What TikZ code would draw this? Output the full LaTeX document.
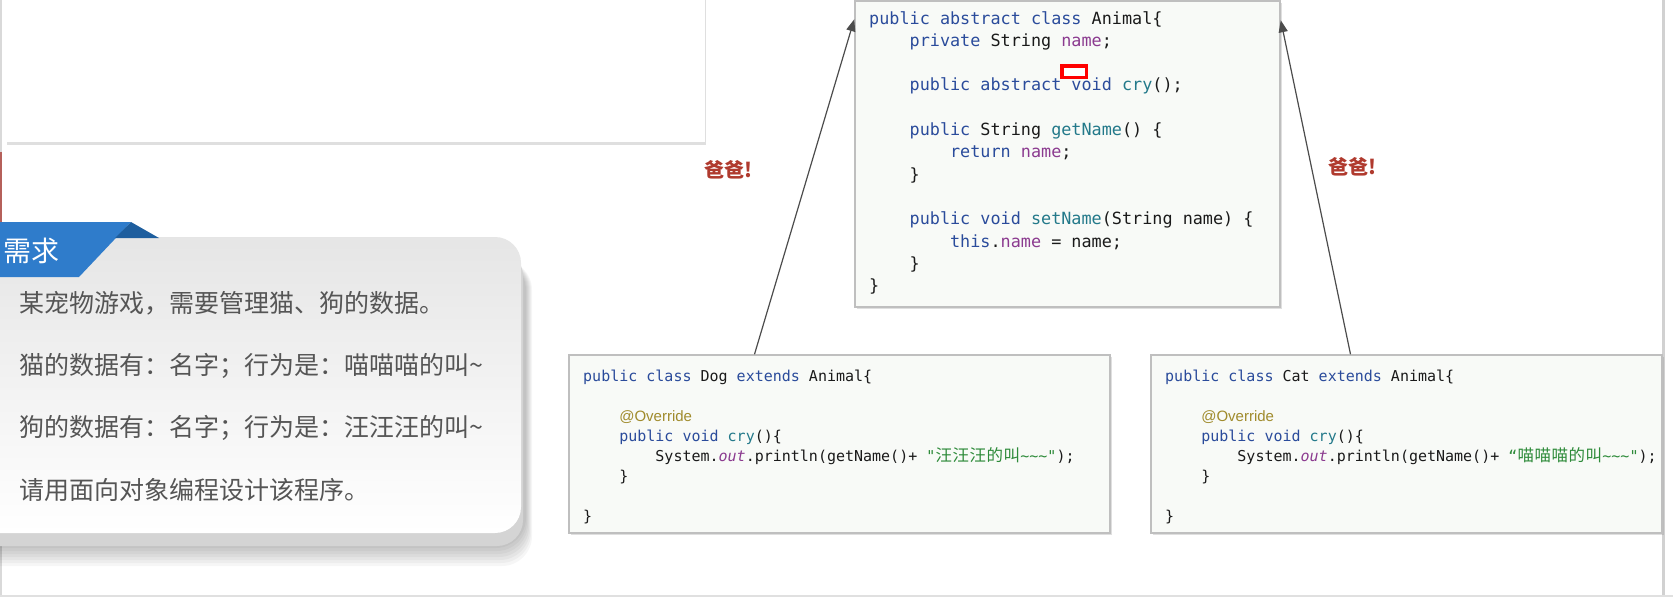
\documentclass[tikz,border=0pt]{standalone}
\usepackage{fontspec}
\setmonofont{DejaVu Sans Mono}
\newfontfamily\cjk{Noto Sans CJK SC}
\newfontfamily\arialfont{Liberation Sans}
\usetikzlibrary{arrows.meta,shadows}

\definecolor{kwblue}{HTML}{2A4B9B}
\definecolor{mthteal}{HTML}{23798A}
\definecolor{fldpurple}{HTML}{8B3A8F}
\definecolor{strgreen}{HTML}{2E8B3A}
\definecolor{annogold}{HTML}{A08B2C}
\definecolor{codeink}{HTML}{1A1A1A}
\definecolor{reqblue}{HTML}{2F7CCB}
\definecolor{reqfold}{HTML}{1E5E9E}
\definecolor{dadred}{HTML}{B03A2E}
\definecolor{reqgray}{HTML}{555555}
\definecolor{codebg}{HTML}{F8FAF7}
\definecolor{edgered}{HTML}{B5605A}

% code colouring
\newcommand{\kwd}[1]{\textcolor{kwblue}{#1}}
\newcommand{\mth}[1]{\textcolor{mthteal}{#1}}
\newcommand{\fld}[1]{\textcolor{fldpurple}{#1}}
\newcommand{\jstr}[1]{\textcolor{strgreen}{#1}}
\newcommand{\anno}[1]{\textcolor{annogold}{\arialfont #1}}
\newcommand{\cc}[1]{\makebox[17pt]{\cjk\fontsize{16.5}{20}\selectfont #1}}
\newcommand{\tld}{\textasciitilde}
\newcommand{\indt}{\phantom{0000}}
\newcommand{\bigcode}{\ttfamily\fontsize{16.8}{22.3}\selectfont}
\newcommand{\smallcode}{\ttfamily\fontsize{15}{20}\selectfont}

\begin{document}
\begin{tikzpicture}[x=1pt, y=-1pt,
  codebox/.style={draw=black!25, line width=1.5pt, fill=codebg, inner sep=0pt,
                  drop shadow={shadow xshift=2pt, shadow yshift=-2pt, opacity=0.25}},
  code/.style={inner sep=0pt, align=left, text=codeink, anchor=north west},
  reqtext/.style={inner sep=0pt, anchor=base west, text=reqgray,
                  font=\cjk\fontsize{25}{30}\selectfont},
  dad/.style={font=\cjk\bfseries\fontsize{20}{22}\selectfont, text=dadred, inner sep=0pt},
  inherit/.style={draw=black!70, line width=1.2pt, -{Triangle[length=12pt, width=9pt]}},
]
  \useasboundingbox (0,0) rectangle (1673,597);
  \fill[white] (0,0) rectangle (1673,597);
  % slide edges
  \fill[black!15] (0,0) rectangle (2,597);
  \fill[edgered] (0,152) rectangle (2,367);
  \fill[black!18] (1662,0) rectangle (1665,597);
  \fill[black!12] (0,595) rectangle (1673,597);

  % empty card top left
  \node[fill=white, minimum width=699pt, minimum height=150pt, inner sep=0pt,
        drop shadow={shadow xshift=1pt, shadow yshift=-3pt, opacity=0.25}]
        (blank) at (355.5,67) {};

  % requirement panel, soft shadow first
  \foreach \s in {0,3,...,18}
    \fill[black, opacity=0.035, rounded corners=30pt] (-30,260) rectangle (526+\s/3,548+\s);
  \fill[black!17, rounded corners=26pt] (-30,250) rectangle (523,546);
  \shade[top color=black!10, bottom color=white, rounded corners=26pt]
        (-30,237) rectangle (521,533);
  \fill[reqblue] (0,222) -- (131,222) -- (79,277) -- (0,277) -- cycle;
  \fill[reqfold] (131,222) -- (159,238) -- (115,238) -- cycle;
  \node[inner sep=0pt, anchor=base west, text=white, font=\cjk\fontsize{28}{30}\selectfont]
        (reqtitle) at (3,261) {需求};
  \node[reqtext] (req1) at (19,312) {某宠物游戏，需要管理猫、狗的数据。};
  \node[reqtext] (req2) at (19,374) {猫的数据有：名字；行为是：喵喵喵的叫\tld};
  \node[reqtext] (req3) at (19,436) {狗的数据有：名字；行为是：汪汪汪的叫\tld};
  \node[reqtext] (req4) at (19,499) {请用面向对象编程设计该程序。};

  % class boxes
  \node[codebox, minimum width=425pt, minimum height=306pt] (animal) at (1067.5,154) {};
  \node[codebox, minimum width=541pt, minimum height=178pt] (dog) at (839.5,444) {};
  \node[codebox, minimum width=511pt, minimum height=178pt] (cat) at (1406.5,444) {};

  \node[code, font=\bigcode] (animalcode) at (869,11) {%
    \kwd{public abstract class} Animal\{\\
    \indt\kwd{private} String \fld{name};\\
    \\
    \indt\kwd{public abstract void} \mth{cry}();\\
    \\
    \indt\kwd{public} String \mth{getName}() \{\\
    \indt\indt\kwd{return} \fld{name};\\
    \indt\}\\
    \\
    \indt\kwd{public void} \mth{setName}(String name) \{\\
    \indt\indt\kwd{this}.\fld{name} = name;\\
    \indt\}\\
    \}};
  \node[draw=red, line width=3.5pt, fill=white, minimum width=24.5pt,
        minimum height=11.5pt, inner sep=0pt] (mark) at (1074,71.5) {};

  \node[code, font=\smallcode] (dogcode) at (583,370) {%
    \kwd{public class} Dog \kwd{extends} Animal\{\\
    \\
    \indt\anno{@Override}\\
    \indt\kwd{public void} \mth{cry}()\{\\
    \indt\indt System.\textcolor{fldpurple}{\itshape out}.println(getName()+ \jstr{"\cc{汪}\cc{汪}\cc{汪}\cc{的}\cc{叫}\tld\tld\tld"});\\
    \indt\}\\
    \\
    \}};
  \node[code, font=\smallcode] (catcode) at (1165,370) {%
    \kwd{public class} Cat \kwd{extends} Animal\{\\
    \\
    \indt\anno{@Override}\\
    \indt\kwd{public void} \mth{cry}()\{\\
    \indt\indt System.\textcolor{fldpurple}{\itshape out}.println(getName()+ \jstr{“\cc{喵}\cc{喵}\cc{喵}\cc{的}\cc{叫}\tld\tld\tld"});\\
    \indt\}\\
    \\
    \}};

  % inheritance arrows
  \draw[inherit] ([xshift=-85pt]dog.north) -- node[dad, pos=0.55, left=56pt] {爸爸!}
        ([yshift=-19pt]animal.north west);
  \draw[inherit] ([xshift=-56pt]cat.north) -- node[dad, pos=0.56, right=16pt] {爸爸!}
        ([yshift=-20pt]animal.north east);
\end{tikzpicture}
\end{document}
